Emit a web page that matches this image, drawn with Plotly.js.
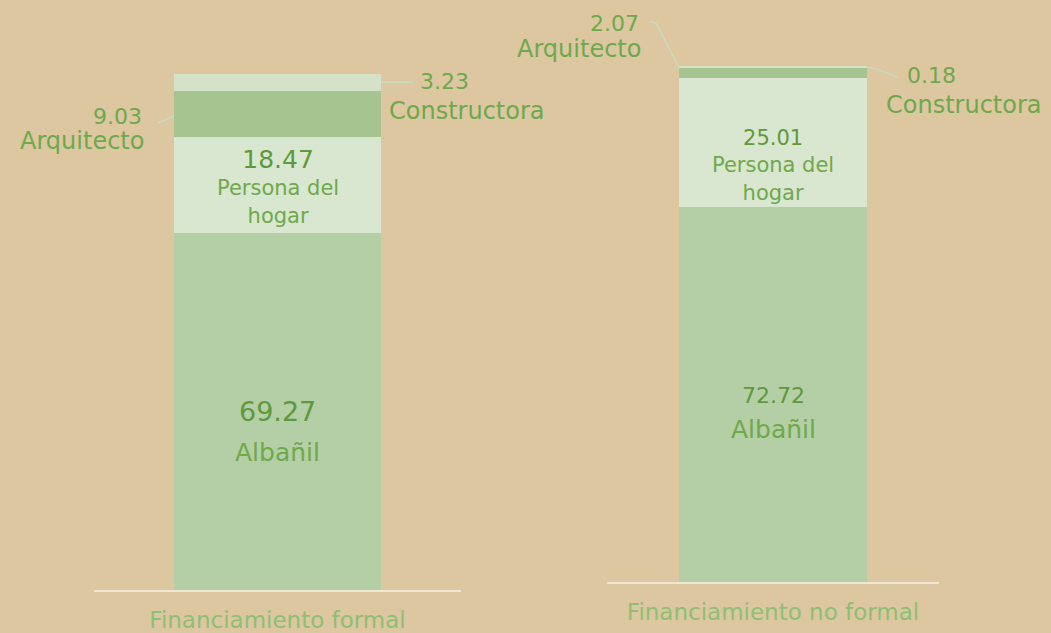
<!DOCTYPE html>
<html>
<head>
<meta charset="utf-8">
<script src="https://cdn.plot.ly/plotly-3.0.1.min.js"></script>
<style>html,body{margin:0;padding:0;background:#dcc7a1;}#chart{width:1051px;height:633px;}</style>
</head>
<body>
<div id="chart"></div>
<script>
const categories = ["Financiamiento formal", "Financiamiento no formal"];
const seriesNames = ["Albañil", "Persona del hogar", "Arquitecto", "Constructora"];
const albanil = [69.27, 72.72];
const personaHogar = [18.47, 25.01];
const arquitecto = [9.03, 2.07];
const constructora = [3.23, 0.18];
const seriesValues = [albanil, personaHogar, arquitecto, constructora];
const seriesColors = ["#b4cea6", "#d9e6d0", "#a5c48f", "#d5e2c8"];

const FONT = "DejaVu Sans, sans-serif";
const NUM_COLOR = "#5d9a3b";
const LAB_COLOR = "#6ea94b";
const LINE_COLOR = "#cadcbe";
const BARW = 0.565;

const traces = [];
for (let p = 0; p < 2; p++) {
  const ax = p === 0 ? "" : "2";
  seriesNames.forEach((name, s) => {
    traces.push({
      type: "bar",
      x: [categories[p]],
      y: [seriesValues[s][p]],
      name: name,
      width: BARW,
      marker: {color: seriesColors[s], line: {width: 0}},
      xaxis: "x" + ax,
      yaxis: "y" + ax,
      hoverinfo: "name+y",
      showlegend: false
    });
  });
}

function segBase(s, p) { let b = 0; for (let i = 0; i < s; i++) b += seriesValues[i][p]; return b; }
function segMid(s, p) { return segBase(s, p) + seriesValues[s][p] / 2; }
function segTop(s, p) { return segBase(s, p) + seriesValues[s][p]; }

const annotations = [];
const shapes = [];
function ann(p, x, y, text, size, color, xanchor, xshift, yshift) {
  const ax = p === 0 ? "" : "2";
  annotations.push({xref: "x" + ax, yref: "y" + ax, x: x, y: y, text: text, showarrow: false,
    font: {family: FONT, size: size, color: color}, xanchor: xanchor, yanchor: "middle",
    xshift: xshift, yshift: yshift, align: xanchor === "center" ? "center" : xanchor});
}
function conn(p, x, y, path) {
  const ax = p === 0 ? "" : "2";
  shapes.push({type: "path", xref: "x" + ax, yref: "y" + ax, xsizemode: "pixel", ysizemode: "pixel",
    xanchor: x, yanchor: y, path: path, line: {color: LINE_COLOR, width: 1.5}});
}
function numSpan(v, size) {
  return '<span style="font-size:' + size + 'px;color:' + NUM_COLOR + '">' + v.toFixed(2) + '</span>';
}

// inside labels
ann(0, categories[0], segMid(0, 0), albanil[0].toFixed(2), 27, NUM_COLOR, "center", 0, 0);
ann(0, categories[0], segMid(0, 0), seriesNames[0], 25, LAB_COLOR, "center", 0, -41);
ann(0, categories[0], segMid(1, 0), numSpan(personaHogar[0], 25) + "<br>Persona del<br>hogar", 21, LAB_COLOR, "center", 0, -2);
ann(1, categories[1], segMid(0, 1), albanil[1].toFixed(2), 22, NUM_COLOR, "center", 0, -1);
ann(1, categories[1], segMid(0, 1), seriesNames[0], 25, LAB_COLOR, "center", 0, -35);
ann(1, categories[1], segMid(1, 1), numSpan(personaHogar[1], 21) + "<br>Persona del<br>hogar", 21, LAB_COLOR, "center", 0, -23);

// outside labels with connectors
const L = -BARW / 2, R = BARW / 2;
ann(0, L, segMid(2, 0), arquitecto[0].toFixed(2), 22, LAB_COLOR, "right", -30, -3);
ann(0, L, segMid(2, 0), seriesNames[2], 24, LAB_COLOR, "right", -28, -27);
conn(0, L, segMid(2, 0), "M0,-2 L-16,-9");
ann(0, R, segMid(3, 0), constructora[0].toFixed(2), 22, LAB_COLOR, "left", 37, 1);
ann(0, R, segMid(3, 0), seriesNames[3], 24, LAB_COLOR, "left", 6, -29);
conn(0, R, segMid(3, 0), "M0,0 L32,0");
ann(1, L, segMid(2, 1), arquitecto[1].toFixed(2), 22, LAB_COLOR, "right", -38, 49);
ann(1, L, segMid(2, 1), seriesNames[2], 24, LAB_COLOR, "right", -36, 23);
conn(1, L, segMid(2, 1), "M0,4 L-23,49 L-29,51");
ann(1, R, segTop(3, 1), constructora[1].toFixed(2), 22, LAB_COLOR, "left", 38, -9);
ann(1, R, segTop(3, 1), seriesNames[3], 24, LAB_COLOR, "left", 17, -39);
conn(1, R, segTop(3, 1), "M0,-1 L10,-3 L31,-11");

const W = 1051, H = 633;
function fx(px) { return px / W; }
function fy(py) { return (H - py) / H; }
const PXU = 5.16; // pixels per percentage point

const xbase = {
  type: "category", range: [-0.5, 0.5], showgrid: false, zeroline: false,
  showline: true, linecolor: "#ede7d4", linewidth: 2, ticks: "",
  tickfont: {family: FONT, size: 23, color: "#8dbf74"}, ticklabelstandoff: 8, fixedrange: true
};
const ybase = {visible: false, showgrid: false, zeroline: false, fixedrange: true};

const layout = {
  width: W, height: H,
  margin: {l: 0, r: 0, t: 0, b: 0},
  paper_bgcolor: "#dcc7a1", plot_bgcolor: "rgba(0,0,0,0)",
  barmode: "stack", showlegend: false,
  xaxis: Object.assign({}, xbase, {domain: [fx(94), fx(461)], anchor: "y"}),
  yaxis: Object.assign({}, ybase, {domain: [fy(590), 1], range: [0, 590 / PXU], anchor: "x"}),
  xaxis2: Object.assign({}, xbase, {domain: [fx(607), fx(939)], anchor: "y2"}),
  yaxis2: Object.assign({}, ybase, {domain: [fy(582), 1], range: [0, 582 / PXU], anchor: "x2"}),
  annotations: annotations,
  shapes: shapes
};

Plotly.newPlot("chart", traces, layout, {displayModeBar: false, responsive: false});
</script>
</body>
</html>
